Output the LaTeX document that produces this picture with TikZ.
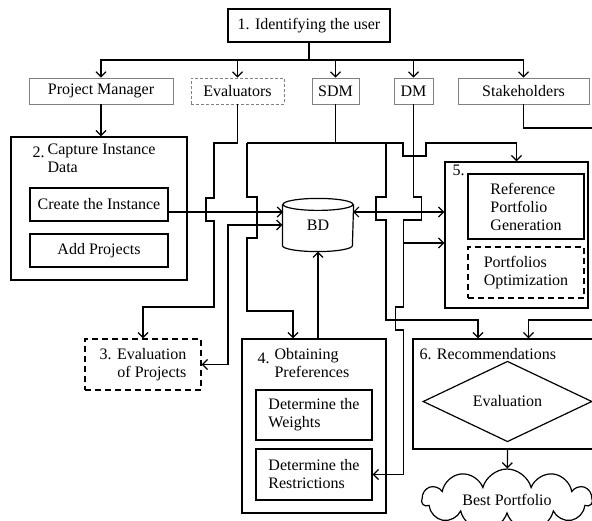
\documentclass[tikz,border=0pt]{standalone}
\usepackage{fontspec}
\setmainfont{Liberation Serif}
\usetikzlibrary{arrows.meta,shapes.geometric,shapes.symbols}

\begin{document}
\begin{tikzpicture}[x=1pt,y=-1pt,
		font=\fontsize{16}{18}\selectfont,
		>={Straight Barb[length=5pt,width=10pt]},
		line width=1.2pt,
		every node/.style={inner sep=0pt},
		mainbox/.style={draw,line width=1.4pt},
		rolebox/.style={draw=gray,line width=0.8pt,minimum height=26pt},
		subbox/.style={draw,line width=1.3pt,minimum width=116pt},
		dashbox/.style={draw,line width=1.3pt,dash pattern=on 6pt off 4pt},
		title/.style={anchor=north west,align=left}]

			\useasboundingbox (0,0) rectangle (592,521);
			\clip (0,0) rectangle (592,521);

			\node[mainbox,minimum width=162pt,minimum height=33pt] (id) at (309,25.5) {1. Identifying the user};
			\coordinate (bus) at (309,60);

			\node[rolebox,minimum width=144pt] (pm) at (101,91) {Project Manager};
			\node[rolebox,dash pattern=on 3pt off 2pt,minimum width=93pt] (ev) at (237.5,91) {Evaluators};
			\node[rolebox,minimum width=47pt] (sdm) at (335.5,91) {SDM};
			\node[rolebox,minimum width=39pt] (dm) at (413.5,91) {DM};
			\node[rolebox,minimum width=131pt] (sh) at (523.5,91) {Stakeholders};

			\node[mainbox,minimum width=176pt,minimum height=143pt] (box2) at (99,208.5) {};
			\node[anchor=base west] (n2) at (32,158) {2.};
			\node[title] (t2) at (47,143) {Capture Instance\\Data};
			\node[subbox,minimum width=138pt,minimum height=33pt] (create) at (99,204.5) {Create the Instance};
			\node[subbox,minimum width=138pt,minimum height=33pt] (addp) at (99,250.5) {Add Projects};

			\node[minimum width=70pt,minimum height=52pt] (bd) at (318,225) {BD};
			\draw ([yshift=-6pt]bd.north west) -- ([yshift=6pt]bd.south west)
				arc[start angle=180,end angle=360,x radius=35pt,y radius=6pt]
				-- ([yshift=-6pt]bd.north east);
			\draw ([yshift=-6pt]bd.north) ellipse [x radius=35pt,y radius=6pt];

			\node[mainbox,minimum width=143pt,minimum height=146pt] (box5) at (516.5,235) {};
			\node[anchor=base west] (n5) at (452,176) {5.};
			\node[subbox,minimum height=65pt,align=left] (rpg) at (526,206.5) {Reference\\Portfolio\\Generation};
			\node[dashbox,minimum width=116pt,minimum height=51pt,align=left] (po) at (526,272.5) {Portfolios\\Optimization};

			\node[dashbox,minimum width=116pt,minimum height=51pt,align=right] (box3) at (143,364.5) {3. Evaluation\\of Projects};

			\node[mainbox,minimum width=144pt,minimum height=174pt] (box4) at (314,426) {};
			\node[anchor=base west] (n4) at (257,363) {4.};
			\node[title] (t4) at (274,348) {Obtaining\\Preferences};
			\node[subbox,minimum height=50pt,align=left] (dw) at (314,415) {Determine the\\Weights};
			\node[subbox,minimum height=51pt,align=left] (dr) at (314,474.5) {Determine the\\Restrictions};

			\node[mainbox,minimum width=187pt,minimum height=110pt] (box6) at (506.5,394) {};
			\node[title] (t6) at (419,348) {6. Recommendations};
			\node[draw,diamond,line width=1.2pt,minimum width=169pt,minimum height=69pt] (eval) at (507.5,401.5) {Evaluation};

			\node[draw,cloud,cloud puffs=11,aspect=3.5,line width=1.2pt,minimum width=170pt,minimum height=48pt] (best) at (507,500) {Best Portfolio};

			\coordinate (evb) at (214,143);
			\coordinate (evd) at (214,307);
			\coordinate (sdmL) at (247,143);
			\coordinate (sdmM) at (386,143);
			\coordinate (sdmJ) at (403,143);
			\coordinate (b4a) at (293,311);
			\coordinate (b6a) at (478,320);
			\coordinate (dmT) at (413.5,197);
			\coordinate (dmA) at (403.5,243);
			\coordinate (bdl) at (283,212);
			\coordinate (bdr) at (353,212);
			\coordinate (b3v) at (228,225);
			\coordinate (shR) at (600,128);
			\coordinate (shB) at (600,320);

			\draw (id) -- (bus);
			\foreach \r in {pm,ev,sdm,dm,sh}
			\draw[->] (bus) -| (\r);

			\draw[->] (pm) -- (pm |- box2.north);

			\draw[->] (ev) |- (evb) -- ++(0,55) -- ++(-8,0) -- ++(0,23) -- ++(8,0) -- (evd) -| (box3);

			\draw[->] (create.east |- bdl) -- (bdl);
			\draw[<->] (box3) -| (b3v) -- (bd.west);
			\draw[<->] (bdr) -- (bdr -| box5.west);
			\draw[->] (bd |- box4.north) -- (bd.south);

			\draw (sdm) -- (sdm |- sdmL);
			\draw[->] (sdmL) -- (sdmJ) -- ++(0,13) -- ++(23,0) -- ++(0,-13) -| (box5);
			\draw[->] (sdmL) -- ++(0,54) -- ++(10,0) -- ++(0,41) -- ++(-10,0) |- (b4a) -- (b4a |- box4.north);
			\draw[->] (sdmM) -- ++(0,54) -- ++(-10,0) -- ++(0,23) -- ++(10,0) |- (b6a) -- (b6a |- box6.north);

			\draw[->] (dm) -- (dmT) -- ++(8,0) -- ++(0,23) -- ++(-18,0) -- ++(0,87) -- ++(-8,0) -- ++(0,23) -- ++(8,0) |- (dr);
			\draw[->] (dmA) -- (dmA -| box5.west);

			\draw[->] (sh) |- (shR) -- (shB) -| ([xshift=22pt]box6.north);

			\draw[->] (box6.south -| eval) -- (best);
		\end{tikzpicture}
\end{document}
